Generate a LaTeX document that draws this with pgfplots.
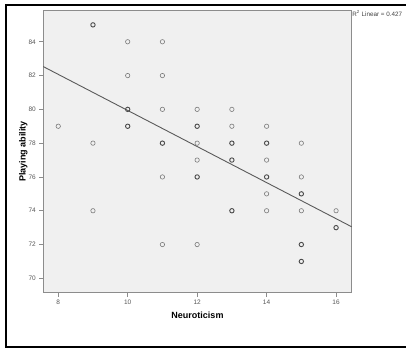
\documentclass[border=0pt]{standalone}
\usepackage{pgfplots}
\pgfplotsset{compat=1.18}
\usetikzlibrary{calc}
\usepackage{fontspec}
\setmainfont{Liberation Sans}
\definecolor{bgc}{HTML}{F0F0F0}
\definecolor{axc}{HTML}{8C8C8C}
\definecolor{tkc}{HTML}{555555}
\definecolor{singc}{HTML}{7A7A7A}
\definecolor{dupc}{HTML}{4A4A4A}
\definecolor{linec}{HTML}{5A5A5A}
\begin{document}
\begin{tikzpicture}[x=1pt,y=1pt]
\begin{axis}[
  scale only axis, width=308.4pt, height=282.7pt,
  xmin=7.57, xmax=16.45, ymin=69.15, ymax=85.88,
  axis background/.style={fill=bgc},
  axis line style={draw=axc, line width=0.9pt},
  xtick={8,10,...,16}, ytick={70,72,...,84},
  tick align=outside, tick pos=left, major tick length=4pt,
  tick style={draw=axc, line width=0.8pt},
  ticklabel style={font=\fontsize{6.5}{7}\selectfont, text=tkc},
  /pgf/number format/assume math mode=true,
  xlabel={Neuroticism}, ylabel={Playing ability},
  label style={font=\fontsize{9}{10}\selectfont\bfseries},
  xlabel style={at={(axis description cs:0.5,-0.093)}, anchor=base},
  ylabel style={at={(axis description cs:-0.0649,0.5)}, anchor=center},
  clip=false,
]
\addplot[only marks, mark=o, mark size=2.2pt, color=singc, mark options={line width=0.6pt}] table {
x y
8 79
9 78
9 74
10 84
10 82
11 84
11 82
11 80
11 76
11 72
12 80
12 78
12 77
12 72
13 80
13 79
14 79
14 77
14 75
14 74
15 78
15 76
15 74
16 74
};
\addplot[only marks, mark=o, mark size=2.2pt, color=dupc, mark options={line width=0.9pt}] table {
x y
9 85
10 80
10 79
11 78
12 79
12 76
13 78
13 77
13 74
14 78
14 76
15 75
15 72
15 71
16 73
};
\addplot[draw=linec, line width=0.9pt, no marks] coordinates {(7.57,82.53) (16.45,73.05)};
\node[anchor=north west, inner sep=0.5pt, font=\fontsize{6.3}{7}\selectfont, text=black!75] at (rel axis cs:1,1) {R\textsuperscript{2} Linear = 0.427};
\coordinate (SW) at (rel axis cs:0,0);
\end{axis}
\draw[line width=2.5pt] ($(SW)+(375,287.7)$) -- ($(SW)+(-37.3,287.7)$) -- ($(SW)+(-37.3,-54.3)$) -- ($(SW)+(375,-54.3)$);
\pgfresetboundingbox
\path[use as bounding box] ($(SW)+(-43.3,-57.3)$) rectangle ($(SW)+(362.7,292.7)$);
\end{tikzpicture}
\end{document}
